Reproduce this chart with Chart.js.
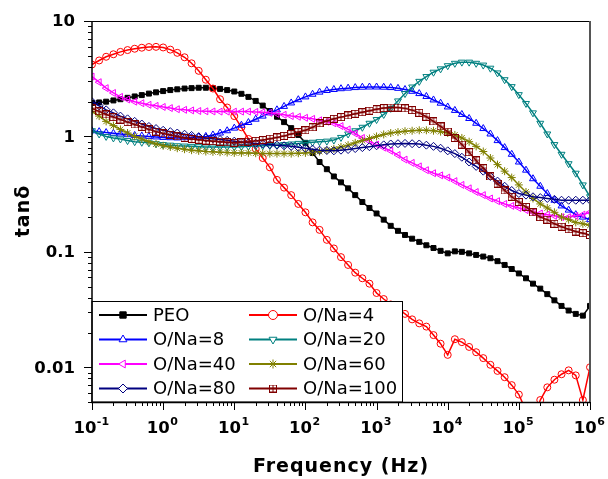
<!DOCTYPE html>
<html>
<head>
<meta charset="utf-8">
<script src="https://cdn.jsdelivr.net/npm/chart.js@4/dist/chart.umd.min.js"></script>
<style>
  html, body { margin: 0; padding: 0; background: #fff; }
  canvas { display: block; }
</style>
</head>
<body>
<canvas id="c" width="608" height="479"></canvas>
<script>
// frequency grid (Hz), 10 points per decade
var FREQ = [0.1, 0.126, 0.158, 0.2, 0.251, 0.316, 0.398, 0.501, 0.631, 0.794,
            1, 1.26, 1.58, 2, 2.51, 3.16, 3.98, 5.01, 6.31, 7.94,
            10, 12.6, 15.8, 20, 25.1, 31.6, 39.8, 50.1, 63.1, 79.4,
            100, 126, 158, 200, 251, 316, 398, 501, 631, 794,
            1000, 1260, 1580, 2000, 2510, 3160, 3980, 5010, 6310, 7940,
            1e4, 1.26e4, 1.58e4, 2e4, 2.51e4, 3.16e4, 3.98e4, 5.01e4, 6.31e4, 7.94e4,
            1e5, 1.26e5, 1.58e5, 2e5, 2.51e5, 3.16e5, 3.98e5, 5.01e5, 6.31e5, 7.94e5,
            1e6];

// tan(delta), one row per decade
var PEO    = [1.95, 1.97, 2.0, 2.05, 2.1, 2.16, 2.22, 2.28, 2.35, 2.41,
              2.47, 2.52, 2.56, 2.6, 2.62, 2.64, 2.64, 2.62, 2.58, 2.52,
              2.45, 2.34, 2.2, 2.03, 1.85, 1.66, 1.48, 1.33, 1.18, 1.03,
              0.88, 0.72, 0.6, 0.52, 0.45, 0.4, 0.355, 0.31, 0.27, 0.24,
              0.215, 0.19, 0.168, 0.152, 0.14, 0.13, 0.122, 0.114, 0.108, 0.102,
              0.097, 0.101, 0.1, 0.097, 0.094, 0.091, 0.088, 0.083, 0.077, 0.071,
              0.065, 0.059, 0.053, 0.048, 0.043, 0.038, 0.034, 0.031, 0.029, 0.028,
              0.034];
var ONA4   = [4.2, 4.55, 4.9, 5.15, 5.4, 5.6, 5.75, 5.87, 5.95, 5.97,
              5.9, 5.65, 5.3, 4.85, 4.3, 3.7, 3.1, 2.6, 2.1, 1.78,
              1.5, 1.2, 0.95, 0.78, 0.65, 0.54, 0.42, 0.36, 0.31, 0.26,
              0.22, 0.18, 0.155, 0.127, 0.107, 0.09, 0.077, 0.066, 0.059, 0.053,
              0.044, 0.039, 0.035, 0.032, 0.029, 0.026, 0.024, 0.0225, 0.019, 0.016,
              0.0128, 0.0175, 0.0165, 0.015, 0.0135, 0.012, 0.0105, 0.0093, 0.0082, 0.007,
              0.0058, 0.0042, 0.0035, 0.0052, 0.0067, 0.0078, 0.0087, 0.0094, 0.0085, 0.0052,
              0.0100];
var ONA8   = [1.12, 1.1, 1.08, 1.065, 1.05, 1.035, 1.02, 1.01, 1.0, 0.99,
              0.98, 0.975, 0.97, 0.975, 0.98, 0.99, 1.0, 1.03, 1.07, 1.12,
              1.18, 1.25, 1.32, 1.41, 1.5, 1.6, 1.7, 1.82, 1.95, 2.08,
              2.2, 2.32, 2.42, 2.5, 2.55, 2.59, 2.62, 2.65, 2.67, 2.68,
              2.68, 2.67, 2.65, 2.61, 2.55, 2.46, 2.35, 2.22, 2.07, 1.94,
              1.8, 1.68, 1.55, 1.43, 1.3, 1.17, 1.05, 0.92, 0.8, 0.7,
              0.6, 0.51, 0.43, 0.37, 0.32, 0.28, 0.25, 0.23, 0.21, 0.2,
              0.19];
var ONA20  = [1.12, 1.05, 1.0, 0.97, 0.95, 0.92, 0.9, 0.89, 0.88, 0.865,
              0.85, 0.84, 0.83, 0.825, 0.82, 0.815, 0.81, 0.81, 0.81, 0.81,
              0.81, 0.815, 0.82, 0.825, 0.83, 0.835, 0.84, 0.85, 0.86, 0.87,
              0.88, 0.89, 0.9, 0.91, 0.93, 0.98, 1.05, 1.12, 1.2, 1.3,
              1.4, 1.55, 1.75, 2.03, 2.35, 2.68, 3.0, 3.3, 3.6, 3.85,
              4.1, 4.3, 4.4, 4.4, 4.3, 4.15, 3.9, 3.55, 3.1, 2.7,
              2.3, 1.93, 1.6, 1.3, 1.05, 0.85, 0.7, 0.58, 0.48, 0.38,
              0.3];
var ONA40  = [3.3, 2.95, 2.62, 2.38, 2.2, 2.09, 2.0, 1.94, 1.88, 1.84,
              1.8, 1.76, 1.72, 1.7, 1.68, 1.66, 1.65, 1.645, 1.64, 1.64,
              1.64, 1.64, 1.64, 1.63, 1.62, 1.6, 1.57, 1.54, 1.5, 1.48,
              1.45, 1.42, 1.38, 1.34, 1.3, 1.23, 1.15, 1.06, 0.97, 0.91,
              0.85, 0.8, 0.75, 0.69, 0.63, 0.59, 0.55, 0.51, 0.48, 0.46,
              0.44, 0.41, 0.38, 0.355, 0.33, 0.31, 0.29, 0.275, 0.26, 0.25,
              0.24, 0.23, 0.22, 0.215, 0.21, 0.205, 0.2, 0.2, 0.205, 0.21,
              0.22];
var ONA60  = [1.65, 1.5, 1.35, 1.24, 1.15, 1.07, 1.0, 0.95, 0.9, 0.86,
              0.83, 0.81, 0.79, 0.775, 0.76, 0.75, 0.74, 0.735, 0.73, 0.725,
              0.72, 0.72, 0.72, 0.715, 0.71, 0.71, 0.71, 0.71, 0.71, 0.715,
              0.72, 0.73, 0.74, 0.76, 0.78, 0.81, 0.84, 0.88, 0.92, 0.96,
              1.0, 1.04, 1.07, 1.09, 1.11, 1.12, 1.13, 1.13, 1.12, 1.1,
              1.07, 1.03, 0.97, 0.9, 0.82, 0.74, 0.65, 0.57, 0.5, 0.44,
              0.38, 0.33, 0.29, 0.26, 0.24, 0.22, 0.2, 0.19, 0.18, 0.175,
              0.17];
var ONA80  = [2.0, 1.84, 1.7, 1.6, 1.5, 1.42, 1.35, 1.28, 1.22, 1.17,
              1.13, 1.1, 1.07, 1.045, 1.02, 0.995, 0.97, 0.955, 0.94, 0.925,
              0.91, 0.895, 0.88, 0.87, 0.86, 0.85, 0.84, 0.83, 0.82, 0.805,
              0.79, 0.775, 0.76, 0.755, 0.75, 0.76, 0.77, 0.785, 0.8, 0.815,
              0.83, 0.845, 0.86, 0.865, 0.87, 0.865, 0.86, 0.84, 0.82, 0.79,
              0.75, 0.71, 0.66, 0.6, 0.55, 0.5, 0.45, 0.41, 0.37, 0.34,
              0.32, 0.31, 0.3, 0.295, 0.29, 0.285, 0.28, 0.28, 0.28, 0.28,
              0.28];
var ONA100 = [1.75, 1.65, 1.55, 1.47, 1.4, 1.33, 1.27, 1.21, 1.15, 1.1,
              1.06, 1.03, 1.0, 0.97, 0.95, 0.935, 0.92, 0.91, 0.9, 0.89,
              0.88, 0.89, 0.9, 0.915, 0.93, 0.955, 0.98, 1.01, 1.05, 1.09,
              1.13, 1.2, 1.3, 1.36, 1.42, 1.47, 1.52, 1.57, 1.62, 1.67,
              1.72, 1.76, 1.78, 1.78, 1.75, 1.69, 1.6, 1.48, 1.35, 1.22,
              1.1, 0.97, 0.85, 0.73, 0.62, 0.53, 0.45, 0.39, 0.34, 0.3,
              0.27, 0.245, 0.22, 0.2, 0.19, 0.175, 0.165, 0.157, 0.15, 0.145,
              0.14];

var LABELS = ["PEO", "O/Na=4", "O/Na=8", "O/Na=20", "O/Na=40", "O/Na=60", "O/Na=80", "O/Na=100"];

// axis ticks
var X_TICKS = [0.1, 1, 10, 100, 1e3, 1e4, 1e5, 1e6];
var X_EXPS  = ["-1", "0", "1", "2", "3", "4", "5", "6"];
var Y_TICKS = [0.01, 0.1, 1, 10];
var Y_TICK_LABELS = ["0.01", "0.1", "1", "10"];

var BOLD = "bold 16.5px 'DejaVu Sans', sans-serif";
var SUP = "bold 11px 'DejaVu Sans', sans-serif";

// square with a plus inside (Origin style marker)
function crossBox(color, n) {
    var c = document.createElement("canvas");
    c.width = n; c.height = n;
    var g = c.getContext("2d");
    g.strokeStyle = color;
    g.lineWidth = 1;
    g.strokeRect(0.5, 0.5, n - 1, n - 1);
    g.beginPath();
    g.moveTo(n / 2, 0); g.lineTo(n / 2, n);
    g.moveTo(0, n / 2); g.lineTo(n, n / 2);
    g.stroke();
    return c;
}

var STYLES = [
    {color: "#000000", shape: "rect",     rot: 0,   filled: true,  r: 3.5},
    {color: "#ff0000", shape: "circle",   rot: 0,   filled: false, r: 3.5},
    {color: "#0000ff", shape: "triangle", rot: 0,   filled: false, r: 4},
    {color: "#008080", shape: "triangle", rot: 180, filled: false, r: 4},
    {color: "#ff00ff", shape: "triangle", rot: -90, filled: false, r: 4},
    {color: "#808000", shape: "star",     rot: 0,   filled: false, r: 4},
    {color: "#000080", shape: "rectRot",  rot: 0,   filled: false, r: 4},
    {color: "#800000", shape: crossBox("#800000", 8), rot: 0, filled: false, r: 4}
];

var VALUES = [PEO, ONA4, ONA8, ONA20, ONA40, ONA60, ONA80, ONA100];

var datasets = VALUES.map(function (vals, i) {
    var s = STYLES[i];
    return {
        label: LABELS[i],
        data: FREQ.map(function (f, k) { return {x: f, y: vals[k]}; }),
        borderColor: s.color,
        borderWidth: 1.5,
        pointStyle: s.shape,
        pointRotation: s.rot,
        pointRadius: s.r,
        pointBorderWidth: 1,
        pointBorderColor: s.color,
        pointBackgroundColor: s.filled ? s.color : "rgba(0,0,0,0)",
        fill: false,
        tension: 0,
        order: 20 - i
    };
});

var decor = {
    id: "decor",
    afterDatasetsDraw: function (chart) {
        var ctx = chart.ctx, a = chart.chartArea;
        var xs = chart.scales.x, ys = chart.scales.y;
        ctx.save();

        // legend box
        var lx0 = a.left, ly0 = 301.5, lx1 = 402.5, ly1 = a.bottom;
        ctx.fillStyle = "#fff";
        ctx.fillRect(lx0, ly0, lx1 - lx0, ly1 - ly0);
        ctx.strokeStyle = "#000";
        ctx.lineWidth = 1;
        ctx.strokeRect(lx0, ly0, lx1 - lx0, ly1 - ly0);
        var rows = [315, 339.5, 364, 388.5];
        var cols = [99, 249];
        ctx.font = "18px 'DejaVu Sans', sans-serif";
        ctx.textBaseline = "middle";
        ctx.textAlign = "left";
        chart.data.datasets.forEach(function (ds, i) {
            var s = STYLES[i];
            var x = cols[i % 2], y = rows[Math.floor(i / 2)];
            ctx.strokeStyle = s.color;
            ctx.lineWidth = 2;
            ctx.beginPath();
            ctx.moveTo(x, y); ctx.lineTo(x + 48, y);
            ctx.stroke();
            ctx.lineWidth = 1;
            ctx.fillStyle = s.filled ? s.color : "#fff";
            Chart.helpers.drawPoint(ctx, {pointStyle: s.shape, rotation: s.rot, radius: 4.5, borderWidth: 1}, x + 24, y);
            ctx.fillStyle = "#000";
            ctx.fillText(ds.label, x + 54, y + 1);
        });

        // frame
        ctx.strokeStyle = "#000";
        ctx.lineWidth = 1;
        ctx.beginPath();
        ctx.moveTo(a.left, a.top + 0.5); ctx.lineTo(a.right, a.top + 0.5);
        ctx.stroke();
        ctx.strokeStyle = "#555";
        ctx.lineWidth = 2;
        ctx.beginPath();
        ctx.moveTo(a.right, a.top); ctx.lineTo(a.right, a.bottom);
        ctx.stroke();
        ctx.strokeStyle = "#000";
        ctx.lineWidth = 1.5;
        ctx.beginPath();
        ctx.moveTo(a.left, a.top); ctx.lineTo(a.left, a.bottom + 0.5);
        ctx.lineTo(a.right, a.bottom + 0.5);
        ctx.stroke();

        // ticks, major long and minor short, outside the frame
        ctx.lineWidth = 1;
        ctx.beginPath();
        for (var e = -1; e <= 5; e++) {
            for (var m = 1; m <= 9; m++) {
                var px = Math.round(xs.getPixelForValue(m * Math.pow(10, e))) + 0.5;
                ctx.moveTo(px, a.bottom);
                ctx.lineTo(px, a.bottom + (m === 1 ? 8 : 4));
            }
        }
        var pe = Math.round(xs.getPixelForValue(1e6)) + 0.5;
        ctx.moveTo(pe, a.bottom); ctx.lineTo(pe, a.bottom + 8);
        for (var ey = -3; ey <= 0; ey++) {
            for (var my = 1; my <= 9; my++) {
                var v = my * Math.pow(10, ey);
                if (v < 0.005) continue;
                var py = Math.round(ys.getPixelForValue(v)) + 0.5;
                ctx.moveTo(a.left, py);
                ctx.lineTo(a.left - (my === 1 ? 8 : 4), py);
            }
        }
        var pt = Math.round(ys.getPixelForValue(10)) + 0.5;
        ctx.moveTo(a.left, pt); ctx.lineTo(a.left - 8, pt);
        ctx.stroke();

        // y tick labels
        ctx.fillStyle = "#000";
        ctx.font = BOLD;
        ctx.textAlign = "right";
        ctx.textBaseline = "middle";
        Y_TICKS.forEach(function (v, i) {
            ctx.fillText(Y_TICK_LABELS[i], 75, ys.getPixelForValue(v) + 1);
        });

        // x tick labels: 10 with superscript exponent
        ctx.textAlign = "left";
        ctx.textBaseline = "alphabetic";
        X_TICKS.forEach(function (v, i) {
            ctx.font = BOLD;
            var wb = ctx.measureText("10").width;
            ctx.font = SUP;
            var we = ctx.measureText(X_EXPS[i]).width;
            var x0 = xs.getPixelForValue(v) - (wb + we) / 2 - 1;
            ctx.font = BOLD;
            ctx.fillText("10", x0, 433);
            ctx.font = SUP;
            ctx.fillText(X_EXPS[i], x0 + wb + 0.5, 425);
        });

        // axis titles
        ctx.font = "bold 19px 'DejaVu Sans', sans-serif";
        ctx.letterSpacing = "1px";
        ctx.textAlign = "center";
        ctx.fillText("Frequency (Hz)", 341, 472);
        ctx.translate(29, 211);
        ctx.rotate(-Math.PI / 2);
        ctx.fillText("tan\u03b4", 0, 0);
        ctx.restore();
    }
};

new Chart(document.getElementById("c").getContext("2d"), {
    type: "line",
    data: {datasets: datasets},
    options: {
        responsive: false,
        animation: false,
        events: [],
        layout: {padding: {left: 0, top: 21, right: 18, bottom: 0}},
        plugins: {legend: {display: false}, tooltip: {enabled: false}},
        scales: {
            x: {
                type: "logarithmic",
                min: 0.1,
                max: 1e6,
                ticks: {display: false},
                grid: {display: false},
                border: {display: false},
                afterFit: function (s) { s.height = 77; }
            },
            y: {
                type: "logarithmic",
                min: 0.005,
                max: 10,
                ticks: {display: false},
                grid: {display: false},
                border: {display: false},
                afterFit: function (s) { s.width = 92; }
            }
        }
    },
    plugins: [decor]
});
</script>
</body>
</html>
